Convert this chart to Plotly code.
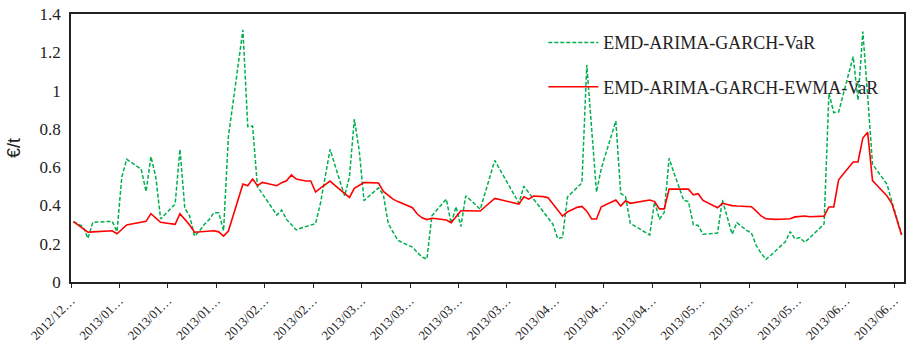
import plotly.graph_objects as go

tick_labels = ["2012/12…", "2013/01…", "2013/01…", "2013/01…", "2013/02…", "2013/02…",
               "2013/03…", "2013/03…", "2013/03…", "2013/03…", "2013/04…", "2013/04…",
               "2013/04…", "2013/05…", "2013/05…", "2013/05…", "2013/06…", "2013/06…"]
points_per_label = 10

var_garch = [
    0.315, 0.30, 0.289, 0.228, 0.312, 0.313, 0.314, 0.316, 0.317, 0.263,
    0.55, 0.641, 0.624, 0.607, 0.59, 0.472, 0.655, 0.55, 0.329, 0.355,
    0.381, 0.407, 0.693, 0.385, 0.345, 0.24, 0.265, 0.30, 0.325, 0.362,
    0.362, 0.268, 0.759, 0.95, 1.13, 1.317, 0.812, 0.815, 0.498, 0.46,
    0.42, 0.385, 0.35, 0.376, 0.327, 0.30, 0.272, 0.282, 0.29, 0.295,
    0.305, 0.41, 0.55, 0.693, 0.61, 0.53, 0.45, 0.55, 0.851, 0.69,
    0.425, 0.448, 0.47, 0.492, 0.455, 0.306, 0.26, 0.218, 0.205, 0.193,
    0.182, 0.155, 0.13, 0.12, 0.345, 0.375, 0.405, 0.433, 0.305, 0.394,
    0.29, 0.45, 0.428, 0.405, 0.38, 0.465, 0.55, 0.635, 0.59, 0.545,
    0.5, 0.455, 0.412, 0.5, 0.467, 0.433, 0.4, 0.367, 0.333, 0.302,
    0.227, 0.233, 0.444, 0.47, 0.495, 0.518, 1.134, 0.80, 0.47, 0.594,
    0.676, 0.758, 0.841, 0.463, 0.446, 0.306, 0.29, 0.275, 0.26, 0.246,
    0.42, 0.328, 0.364, 0.646, 0.57, 0.5, 0.427, 0.42, 0.30, 0.295,
    0.25, 0.251, 0.253, 0.256, 0.428, 0.34, 0.25, 0.31, 0.29, 0.27,
    0.256, 0.19, 0.15, 0.118, 0.14, 0.165, 0.19, 0.21, 0.263, 0.225,
    0.232, 0.207, 0.23, 0.255, 0.28, 0.303, 0.986, 0.885, 0.888, 0.985,
    1.08, 1.177, 0.95, 1.308, 0.97, 0.615, 0.58, 0.545, 0.51, 0.42,
    0.33, 0.25]

var_ewma = [
    0.315, 0.296, 0.278, 0.26, 0.262, 0.264, 0.265, 0.267, 0.268, 0.252,
    0.275, 0.298, 0.303, 0.308, 0.312, 0.317, 0.357, 0.334, 0.312, 0.308,
    0.305, 0.301, 0.357, 0.328, 0.298, 0.26, 0.262, 0.264, 0.266, 0.268,
    0.262, 0.24, 0.266, 0.348, 0.43, 0.512, 0.503, 0.538, 0.503, 0.52,
    0.515, 0.509, 0.503, 0.519, 0.529, 0.559, 0.538, 0.533, 0.528, 0.528,
    0.47, 0.49, 0.508, 0.527, 0.505, 0.483, 0.462, 0.442, 0.489, 0.505,
    0.52, 0.519, 0.518, 0.517, 0.473, 0.452, 0.433, 0.42, 0.408, 0.398,
    0.388, 0.355, 0.335, 0.326, 0.333, 0.33, 0.327, 0.324, 0.31, 0.34,
    0.372, 0.372, 0.372, 0.371, 0.371, 0.393, 0.415, 0.437, 0.431, 0.425,
    0.419, 0.413, 0.407, 0.445, 0.433, 0.449, 0.447, 0.446, 0.44, 0.41,
    0.38, 0.344, 0.366, 0.38, 0.39, 0.395, 0.37, 0.329, 0.329, 0.393,
    0.405, 0.417, 0.428, 0.397, 0.424, 0.411, 0.415, 0.419, 0.423, 0.428,
    0.42, 0.382, 0.382, 0.485, 0.485, 0.485, 0.485, 0.485, 0.455, 0.461,
    0.426, 0.413, 0.40, 0.388, 0.411, 0.404, 0.399, 0.397, 0.396, 0.394,
    0.393, 0.37, 0.345, 0.33, 0.327, 0.327, 0.328, 0.329, 0.33, 0.34,
    0.343, 0.345, 0.341, 0.342, 0.343, 0.344, 0.392, 0.392, 0.534, 0.565,
    0.596, 0.627, 0.627, 0.752, 0.782, 0.53, 0.503, 0.476, 0.449, 0.41,
    0.33, 0.246]

n = len(var_garch)
x = list(range(n))
tickvals = [-0.5 + points_per_label * j for j in range(len(tick_labels))]

fig = go.Figure()
fig.add_trace(go.Scatter(
    x=x, y=var_garch, mode="lines", name="EMD-ARIMA-GARCH-VaR",
    legendgroup="a",
    line=dict(color="#00B050", width=1.5, dash="4px,2px")))
fig.add_trace(go.Scatter(
    x=x, y=var_ewma, mode="lines", name="EMD-ARIMA-GARCH-EWMA-VaR",
    legendgroup="b",
    line=dict(color="#FF0000", width=1.6)))

serif = "Liberation Serif, Times New Roman, serif"
fig.update_layout(
    width=914, height=342,
    margin=dict(l=71, r=10, t=14, b=60),
    paper_bgcolor="white", plot_bgcolor="white",
    showlegend=True,
    legend=dict(x=0.567, y=0.962, xanchor="left", yanchor="top",
                bgcolor="rgba(0,0,0,0)", tracegroupgap=18,
                font=dict(family=serif, size=18, color="#222"),
                itemwidth=50),
    xaxis=dict(range=[-0.5, n - 0.5], tickmode="array", tickvals=tickvals,
               ticktext=tick_labels, tickangle=-45, automargin=False,
               tickfont=dict(family=serif, size=13, color="#222"),
               ticks="outside", ticklen=4, tickcolor="#222", tickwidth=1.3,
               showline=True, linecolor="#222", linewidth=1.5, mirror=True,
               showgrid=False, zeroline=False),
    yaxis=dict(range=[0, 1.4], dtick=0.2, tick0=0, automargin=False,
               tickfont=dict(family=serif, size=17, color="#222"),
               ticklabelstandoff=5,
               ticks="", showline=True, linecolor="#222", linewidth=1.5,
               mirror=True, showgrid=False, zeroline=False,
               title=dict(text="€/t", font=dict(family="Liberation Sans, Arial, sans-serif",
                                                 size=18, color="#222"), standoff=14)),
)

fig.write_html("out.html")
